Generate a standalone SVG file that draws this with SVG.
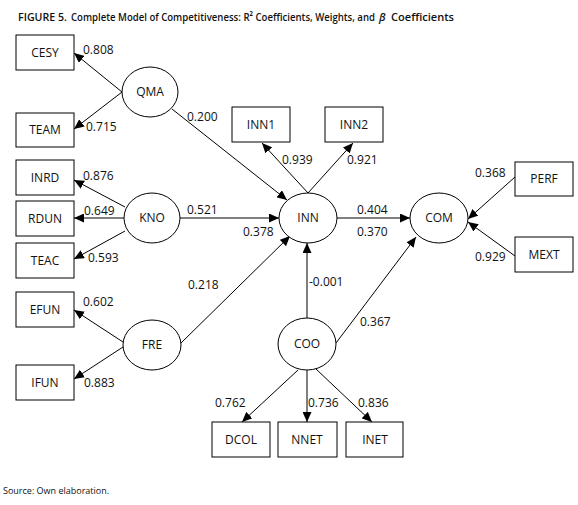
<svg xmlns="http://www.w3.org/2000/svg" width="578" height="505" viewBox="0 0 578 505">
<style>
.box{fill:#fff;stroke:#000;stroke-width:1}
.ell{fill:#fff;stroke:#000;stroke-width:1}
.lbl{font-family:"Open Sans","Noto Sans","Liberation Sans",sans-serif;font-size:12px;fill:#111;text-anchor:middle}
.num{font-family:"Open Sans","Noto Sans","Liberation Sans",sans-serif;font-size:12px;fill:#111}
.ttl{font-family:"Open Sans","Noto Sans",sans-serif;font-size:11px;font-weight:600;fill:#111}
.con line{stroke:#000;stroke-width:1;fill:none}
.arr{marker-end:url(#ah)}
</style>
<defs>
<marker id="ah" markerUnits="userSpaceOnUse" markerWidth="11" markerHeight="9" refX="10" refY="4.5" orient="auto">
<path d="M0,0 L10,4.5 L0,9 z" fill="#000"/>
</marker>
</defs>
<rect width="578" height="505" fill="#fff"/>
<text class="ttl" x="18" y="21" font-weight="bold" textLength="49" lengthAdjust="spacingAndGlyphs">FIGURE 5.</text>
<text class="ttl" x="71" y="21" textLength="304" lengthAdjust="spacingAndGlyphs">Complete Model of Competitiveness: R² Coefficients, Weights, and</text>
<text class="ttl" x="379" y="21" font-style="italic" font-weight="normal" font-family="'Liberation Serif',serif">β</text>
<text class="ttl" x="391" y="21" textLength="63" lengthAdjust="spacingAndGlyphs">Coefficients</text>

<g class="con">
<line class="arr" x1="122" y1="92" x2="74" y2="53"/>
<line class="arr" x1="122" y1="92" x2="74" y2="129"/>
<line class="arr" x1="172" y1="109" x2="287" y2="200"/>
<line class="arr" x1="125" y1="207" x2="74" y2="180"/>
<line class="arr" x1="124" y1="218" x2="74" y2="218"/>
<line class="arr" x1="125" y1="231" x2="74" y2="259"/>
<line class="arr" x1="180" y1="218" x2="279" y2="218"/>
<line class="arr" x1="123" y1="342" x2="74" y2="310"/>
<line class="arr" x1="123" y1="347" x2="74" y2="379"/>
<line class="arr" x1="181" y1="343" x2="290" y2="236"/>
<line class="arr" x1="308" y1="193" x2="262" y2="143"/>
<line class="arr" x1="308" y1="193" x2="353" y2="143"/>
<line class="arr" x1="337" y1="218" x2="410" y2="218"/>
<line class="arr" x1="515" y1="177" x2="468" y2="219"/>
<line class="arr" x1="515" y1="256" x2="468" y2="222"/>
<line class="arr" x1="336" y1="343" x2="416" y2="237"/>
<line class="arr" x1="307" y1="318" x2="307" y2="243"/>
<line class="arr" x1="298" y1="370" x2="242" y2="422"/>
<line class="arr" x1="307" y1="370" x2="307" y2="422"/>
<line class="arr" x1="316" y1="369" x2="372" y2="422"/>
</g>

<g id="CESY"><rect class="box" x="16" y="35" width="58" height="35"/><text class="lbl" x="45" y="57">CESY</text></g>
<g id="TEAM"><rect class="box" x="16" y="113" width="58" height="34"/><text class="lbl" x="45" y="134">TEAM</text></g>
<g id="QMA"><ellipse class="ell" cx="150" cy="92" rx="28" ry="25"/><text class="lbl" x="150" y="96">QMA</text></g>
<g id="INRD"><rect class="box" x="16" y="160" width="58" height="35"/><text class="lbl" x="45" y="182">INRD</text></g>
<g id="RDUN"><rect class="box" x="16" y="201" width="58" height="35"/><text class="lbl" x="45" y="223">RDUN</text></g>
<g id="TEAC"><rect class="box" x="16" y="243" width="58" height="35"/><text class="lbl" x="45" y="265">TEAC</text></g>
<g id="KNO"><ellipse class="ell" cx="152" cy="218" rx="28" ry="25"/><text class="lbl" x="152" y="222">KNO</text></g>
<g id="EFUN"><rect class="box" x="16" y="292" width="58" height="35"/><text class="lbl" x="45" y="314">EFUN</text></g>
<g id="IFUN"><rect class="box" x="16" y="365" width="58" height="35"/><text class="lbl" x="45" y="387">IFUN</text></g>
<g id="FRE"><ellipse class="ell" cx="152" cy="345" rx="29" ry="25"/><text class="lbl" x="152" y="349">FRE</text></g>
<g id="INN1"><rect class="box" x="232" y="107" width="58" height="35"/><text class="lbl" x="261" y="129">INN1</text></g>
<g id="INN2"><rect class="box" x="325" y="107" width="58" height="35"/><text class="lbl" x="354" y="129">INN2</text></g>
<g id="INN"><ellipse class="ell" cx="308" cy="218" rx="29" ry="25"/><text class="lbl" x="308" y="222">INN</text></g>
<g id="COM"><ellipse class="ell" cx="439" cy="218" rx="29" ry="25"/><text class="lbl" x="439" y="222">COM</text></g>
<g id="PERF"><rect class="box" x="515" y="162" width="58" height="34"/><text class="lbl" x="544" y="183">PERF</text></g>
<g id="MEXT"><rect class="box" x="515" y="237" width="58" height="35"/><text class="lbl" x="544" y="259">MEXT</text></g>
<g id="COO"><ellipse class="ell" cx="307" cy="344" rx="29" ry="26"/><text class="lbl" x="307" y="348">COO</text></g>
<g id="DCOL"><rect class="box" x="212" y="422" width="58" height="35"/><text class="lbl" x="241" y="444">DCOL</text></g>
<g id="NNET"><rect class="box" x="278" y="422" width="59" height="35"/><text class="lbl" x="307" y="444">NNET</text></g>
<g id="INET"><rect class="box" x="346" y="422" width="57" height="35"/><text class="lbl" x="375" y="444">INET</text></g>

<g id="labels">
<text class="num" x="83" y="54">0.808</text>
<text class="num" x="86" y="131">0.715</text>
<text class="num" x="187" y="121">0.200</text>
<text class="num" x="83" y="180">0.876</text>
<text class="num" x="84" y="215">0.649</text>
<text class="num" x="88" y="262">0.593</text>
<text class="num" x="187" y="214">0.521</text>
<text class="num" x="243" y="236">0.378</text>
<text class="num" x="188" y="289">0.218</text>
<text class="num" x="83" y="306">0.602</text>
<text class="num" x="84" y="387">0.883</text>
<text class="num" x="282" y="164">0.939</text>
<text class="num" x="347" y="164">0.921</text>
<text class="num" x="357" y="214">0.404</text>
<text class="num" x="357" y="236">0.370</text>
<text class="num" x="475" y="177">0.368</text>
<text class="num" x="475" y="261">0.929</text>
<text class="num" x="309" y="286">-0.001</text>
<text class="num" x="360" y="326">0.367</text>
<text class="num" x="215" y="407">0.762</text>
<text class="num" x="308" y="407">0.736</text>
<text class="num" x="358" y="407">0.836</text>
</g>
<text x="3" y="494" font-family="'Open Sans','Noto Sans',sans-serif" font-size="9" fill="#111">Source: Own elaboration.</text>
</svg>
